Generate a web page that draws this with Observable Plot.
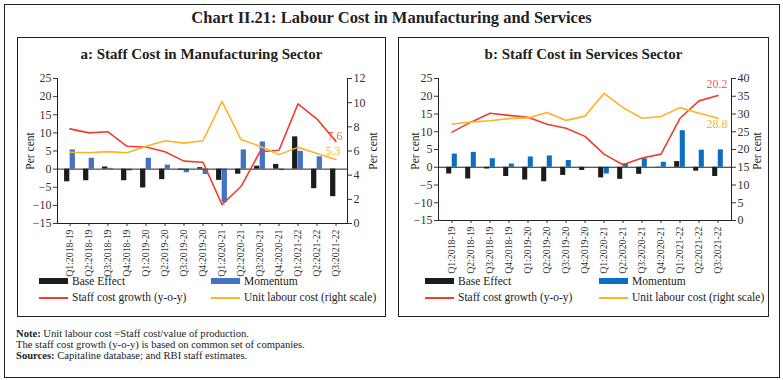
<!DOCTYPE html>
<html>
<head>
<meta charset="utf-8">
<script src="https://cdn.jsdelivr.net/npm/d3@7"></script>
<script src="https://cdn.jsdelivr.net/npm/@observablehq/plot@0.6"></script>
<style>
  html, body { margin: 0; padding: 0; background: #fff; }
  #root { position: relative; width: 783px; height: 380px; font-family: "Liberation Serif", serif; color: #222; overflow: hidden; }
  .box { position: absolute; border: 1px solid #222; box-sizing: border-box; }
  .abs { position: absolute; white-space: nowrap; }
  .ttl { font-weight: bold; text-align: center; }
  .pc { font-size: 11.5px; transform: translate(-50%, -50%) rotate(-90deg); }
  .leg { font-size: 11.5px; line-height: 13px; }
  .sw { position: absolute; }
  .note { font-size: 10.6px; line-height: 10.8px; left: 16px; top: 329px; }
</style>
</head>
<body>
<div id="root"></div>
<script>
// ---- data ----
const quarters = ["Q1:2018-19","Q2:2018-19","Q3:2018-19","Q4:2018-19","Q1:2019-20","Q2:2019-20","Q3:2019-20","Q4:2019-20","Q1:2020-21","Q2:2020-21","Q3:2020-21","Q4:2020-21","Q1:2021-22","Q2:2021-22","Q3:2021-22"];

// Panel a: manufacturing
const baseA  = [-3.5, -3.2, 0.6, -3.2, -5.2, -2.9, -0.3, 0.4, -3.1, -1.4, 0.8, 1.3, 8.9, -5.4, -7.6];
const momA   = [5.3, 3.0, 0.2, -0.5, 3.0, 1.1, -1.0, -1.5, -9.2, 5.3, 7.5, -0.4, 4.9, 3.4, 0.0];
const staffA = [11.1, 10.0, 10.3, 6.3, 6.1, 4.8, 2.2, 1.9, -9.8, -4.8, 4.8, 5.2, 18.0, 13.8, 7.6];
const ulcA   = [5.9, 5.85, 5.95, 5.85, 6.4, 6.85, 6.65, 6.85, 10.1, 6.95, 6.4, 5.7, 6.3, 5.8, 5.3];

// Panel b: services
const baseB  = [-1.9, -3.3, -0.5, -2.6, -3.6, -4.1, -2.3, -0.9, -3.0, -3.4, -2.0, -0.1, 1.6, -1.1, -2.6];
const momB   = [3.7, 4.2, 2.4, 0.9, 2.9, 3.2, 1.9, 0.0, -1.9, 1.0, 2.4, 1.4, 10.3, 4.8, 4.9];
const staffB = [9.9, 12.7, 15.2, 14.6, 14.1, 12.1, 11.0, 8.7, 3.7, 0.7, 2.6, 3.7, 13.8, 18.7, 20.2];
const ulcB   = [27.2, 27.7, 28.1, 28.7, 28.9, 30.4, 28.2, 29.4, 35.8, 31.8, 28.8, 29.3, 31.8, 30.2, 28.8];

const leftTicks = [-15, -10, -5, 0, 5, 10, 15, 20, 25];
const rightTicksA = [0, 2, 4, 6, 8, 10, 12];
const rightTicksB = [0, 5, 10, 15, 20, 25, 30, 35, 40];

const labelsText = {
  title: "Chart II.21: Labour Cost in Manufacturing and Services",
  a: "a: Staff Cost in Manufacturing Sector",
  b: "b: Staff Cost in Services Sector",
  yLabel: "Per cent",
  legend: ["Base Effect", "Momentum", "Staff cost growth (y-o-y)", "Unit labour cost (right scale)"]
};

const BLACK = "#1c1c1c", RED = "#ef3e2d", ORANGE = "#fbb427";

function makePanel({base, mom, staff, ulc, rTicks, blue, width, height, ml, mr, mt, mb, staffLabel, ulcLabel, sdx, sdy, udx, udy}) {
  const yMin = -15, yMax = 25, rMin = rTicks[0], rMax = rTicks[rTicks.length - 1];
  const toL = v => yMin + (v - rMin) * (yMax - yMin) / (rMax - rMin);
  const toR = l => rMin + (l - yMin) * (rMax - rMin) / (yMax - yMin);
  const rows = quarters.map((q, i) => ({q, base: base[i], mom: mom[i], staff: staff[i], ulc: toL(ulc[i])}));
  const bw = (width - ml - mr) / quarters.length;
  const half = 5.6;
  const last = rows[rows.length - 1];
  return Plot.plot({
    width, height,
    marginLeft: ml, marginRight: mr, marginTop: mt, marginBottom: mb,
    style: {fontFamily: "Liberation Serif", fontSize: "11px", color: "#333", background: "transparent", overflow: "visible"},
    x: {type: "band", domain: quarters, padding: 0, axis: null},
    y: {domain: [yMin, yMax], axis: null},
    marks: [
      Plot.barY(rows, {x: "q", y1: () => 0, y2: "base", fill: BLACK, insetLeft: bw / 2 - half, insetRight: bw / 2}),
      Plot.barY(rows, {x: "q", y1: () => 0, y2: "mom", fill: blue, insetLeft: bw / 2, insetRight: bw / 2 - half}),
      Plot.ruleY([0], {stroke: "#222", strokeWidth: 1}),
      Plot.line(rows, {x: "q", y: "staff", stroke: RED, strokeWidth: 1.6}),
      Plot.line(rows, {x: "q", y: "ulc", stroke: ORANGE, strokeWidth: 1.6}),
      Plot.text([last], {x: "q", y: "staff", text: () => staffLabel, fill: RED, dx: sdx, dy: sdy, fontSize: 12, fillOpacity: 0.85}),
      Plot.text([last], {x: "q", y: "ulc", text: () => ulcLabel, fill: ORANGE, dx: udx, dy: udy, fontSize: 12}),
      Plot.axisY(leftTicks, {anchor: "left", tickSize: 4, tickPadding: 2, label: null, fontSize: 12}),
      Plot.axisY(rTicks.map(toL), {anchor: "right", tickSize: 4, tickPadding: 2, label: null, fontSize: 12, tickFormat: d => String(Math.round(toR(d)))}),
      Plot.axisX({anchor: "bottom", tickRotate: -90, tickSize: 3, tickPadding: 3, label: null, fontSize: 9.8}),
      Plot.ruleY([yMin], {stroke: "#222", strokeWidth: 1}),
      Plot.frame({anchor: "left", stroke: "#222"}),
      Plot.frame({anchor: "right", stroke: "#222"})
    ]
  });
}

const root = document.getElementById("root");
function add(html) { root.insertAdjacentHTML("beforeend", html); }

// outer frame and title
add(`<div class="box" style="left:4px;top:4px;width:776px;height:374px;"></div>`);
add(`<div class="abs ttl" style="left:0;width:783px;top:8px;font-size:16.5px;">${labelsText.title}</div>`);

function panelBox(left, width, title, blue, plot, legX, pcL, pcR) {
  add(`<div class="box" style="left:${left}px;top:37px;width:${width}px;height:280px;"></div>`);
  add(`<div class="abs ttl" style="left:${left}px;width:${width}px;top:46px;font-size:15px;">${title}</div>`);
  const holder = document.createElement("div");
  holder.style.cssText = `position:absolute;left:${left}px;top:65px;`;
  holder.appendChild(plot);
  root.appendChild(holder);
  add(`<div class="abs pc" style="left:${pcL}px;top:151px;">${labelsText.yLabel}</div>`);
  add(`<div class="abs pc" style="left:${pcR}px;top:151px;">${labelsText.yLabel}</div>`);
  const [x1, x2] = legX;
  add(`<div class="sw" style="left:${x1}px;top:278px;width:29px;height:6px;background:${BLACK}"></div>`);
  add(`<div class="abs leg" style="left:${x1 + 33}px;top:275px;">${labelsText.legend[0]}</div>`);
  add(`<div class="sw" style="left:${x2}px;top:278px;width:29px;height:6px;background:${blue}"></div>`);
  add(`<div class="abs leg" style="left:${x2 + 33}px;top:275px;">${labelsText.legend[1]}</div>`);
  add(`<div class="sw" style="left:${x1}px;top:297px;width:29px;height:2px;background:${RED}"></div>`);
  add(`<div class="abs leg" style="left:${x1 + 33}px;top:291px;">${labelsText.legend[2]}</div>`);
  add(`<div class="sw" style="left:${x2}px;top:297px;width:29px;height:2px;background:${ORANGE}"></div>`);
  add(`<div class="abs leg" style="left:${x2 + 33}px;top:291px;">${labelsText.legend[3]}</div>`);
}

const plotA = makePanel({base: baseA, mom: momA, staff: staffA, ulc: ulcA, rTicks: rightTicksA, blue: "#4472c4",
  width: 369, height: 208, ml: 40, mr: 39, mt: 13, mb: 50, staffLabel: "7.6", ulcLabel: "5.3", sdx: -1, sdy: -5, udx: -3, udy: -8});
panelBox(17, 369, labelsText.a, "#4472c4", plotA, [39, 211], 30, 373);

const plotB = makePanel({base: baseB, mom: momB, staff: staffB, ulc: ulcB, rTicks: rightTicksB, blue: "#0a6fc2",
  width: 371, height: 207, ml: 40, mr: 38, mt: 13, mb: 52, staffLabel: "20.2", ulcLabel: "28.8", sdx: -1, sdy: -11, udx: -1, udy: 6});
panelBox(398, 371, labelsText.b, "#0a6fc2", plotB, [425, 599], 415, 757);

// notes
add(`<div class="abs note"><b>Note:</b> Unit labour cost =Staff cost/value of production.<br>The staff cost growth (y-o-y) is based on common set of companies.<br><b>Sources:</b> Capitaline database; and RBI staff estimates.</div>`);
</script>
</body>
</html>
